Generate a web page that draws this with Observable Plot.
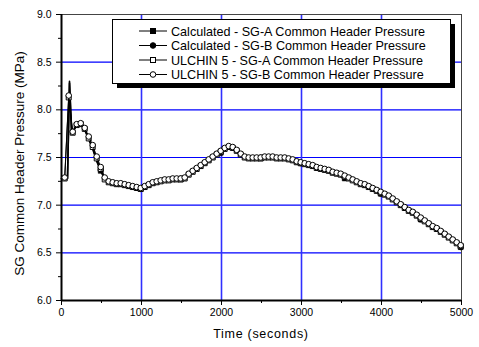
<!DOCTYPE html>
<html>
<head>
<meta charset="utf-8">
<script src="https://cdn.jsdelivr.net/npm/d3@7"></script>
<script src="https://cdn.jsdelivr.net/npm/@observablehq/plot@0.6"></script>
<style>
  html, body { margin: 0; padding: 0; background: white; }
  #wrap { position: relative; width: 479px; height: 347px; }
  #wrap svg { position: absolute; left: 0; top: 0; }
</style>
</head>
<body>
<div id="wrap"></div>
<script>
// ---------- data ----------
const ulchinTime = [40,90,140,190,240,290,340,390,440,490,
  540,590,640,690,740,790,840,890,940,990,
  1040,1090,1140,1190,1240,1290,1340,1390,1440,1490,
  1540,1590,1640,1690,1740,1790,1840,1890,1940,1990,
  2040,2090,2140,2190,2240,2290,2340,2390,2440,2490,
  2540,2590,2640,2690,2740,2790,2840,2890,2940,2990,
  3040,3090,3140,3190,3240,3290,3340,3390,3440,3490,
  3540,3590,3640,3690,3740,3790,3840,3890,3940,3990,
  4040,4090,4140,4190,4240,4290,4340,4390,4440,4490,
  4540,4590,4640,4690,4740,4790,4840,4890,4940,4990];
const ulchinA = [7.28,8.13,7.76,7.84,7.85,7.80,7.70,7.61,7.49,7.38,
  7.27,7.24,7.23,7.22,7.22,7.21,7.20,7.19,7.18,7.17,
  7.19,7.21,7.23,7.24,7.25,7.26,7.26,7.27,7.27,7.27,
  7.28,7.32,7.35,7.38,7.41,7.44,7.47,7.50,7.53,7.56,
  7.59,7.61,7.60,7.57,7.53,7.50,7.49,7.49,7.49,7.49,
  7.50,7.50,7.50,7.49,7.49,7.49,7.48,7.47,7.45,7.44,
  7.43,7.42,7.41,7.39,7.38,7.37,7.36,7.34,7.33,7.32,
  7.30,7.28,7.26,7.24,7.22,7.21,7.19,7.17,7.15,7.13,
  7.11,7.09,7.06,7.03,7.00,6.97,6.94,6.92,6.89,6.86,
  6.83,6.80,6.77,6.75,6.72,6.69,6.66,6.63,6.60,6.57];
const ulchinB = [7.29,8.15,7.77,7.85,7.86,7.81,7.72,7.63,7.51,7.40,
  7.29,7.25,7.24,7.23,7.23,7.22,7.21,7.20,7.19,7.18,
  7.20,7.22,7.24,7.25,7.26,7.27,7.27,7.28,7.28,7.28,
  7.29,7.33,7.36,7.39,7.42,7.45,7.48,7.51,7.54,7.57,
  7.60,7.62,7.61,7.58,7.54,7.51,7.50,7.50,7.50,7.50,
  7.51,7.51,7.51,7.50,7.50,7.50,7.49,7.48,7.46,7.45,
  7.44,7.43,7.42,7.40,7.39,7.38,7.37,7.35,7.34,7.33,
  7.31,7.29,7.27,7.25,7.23,7.22,7.20,7.18,7.16,7.14,
  7.12,7.10,7.07,7.04,7.01,6.98,6.95,6.93,6.90,6.87,
  6.84,6.81,6.78,6.76,6.73,6.70,6.67,6.64,6.61,6.58];

const calcTime = [0,50,75,100,125,
  140,190,240,290,340,390,440,490,
  540,590,640,690,740,790,840,890,940,990,
  1040,1090,1140,1190,1240,1290,1340,1390,1440,1490,
  1540,1590,1640,1690,1740,1790,1840,1890,1940,1990,
  2040,2090,2140,2190,2240,2290,2340,2390,2440,2490,
  2540,2590,2640,2690,2740,2790,2840,2890,2940,2990,
  3040,3090,3140,3190,3240,3290,3340,3390,3440,3490,
  3540,3590,3640,3690,3740,3790,3840,3890,3940,3990,
  4040,4090,4140,4190,4240,4290,4340,4390,4440,4490,
  4540,4590,4640,4690,4740,4790,4840,4890,4940,4990];
const calcA = [7.28,7.28,7.28,8.30,7.78,
  7.76,7.84,7.85,7.79,7.69,7.59,7.46,7.36,
  7.27,7.24,7.23,7.22,7.22,7.21,7.20,7.19,7.18,7.17,
  7.19,7.21,7.23,7.24,7.25,7.26,7.26,7.27,7.27,7.27,
  7.28,7.31,7.34,7.37,7.40,7.43,7.46,7.49,7.52,7.55,
  7.58,7.60,7.60,7.57,7.53,7.50,7.49,7.49,7.49,7.49,
  7.50,7.50,7.50,7.49,7.49,7.49,7.48,7.47,7.45,7.44,
  7.43,7.42,7.41,7.39,7.38,7.37,7.35,7.33,7.32,7.30,
  7.28,7.27,7.25,7.23,7.22,7.20,7.18,7.16,7.14,7.12,
  7.10,7.08,7.05,7.02,6.99,6.96,6.93,6.91,6.88,6.85,
  6.82,6.79,6.76,6.74,6.71,6.68,6.65,6.62,6.59,6.56];
const calcB = [7.28,7.28,7.28,8.28,7.79,
  7.77,7.85,7.85,7.80,7.70,7.60,7.47,7.37,
  7.28,7.24,7.23,7.23,7.22,7.21,7.20,7.19,7.18,7.17,
  7.19,7.21,7.23,7.24,7.25,7.26,7.27,7.27,7.27,7.28,
  7.29,7.31,7.34,7.37,7.40,7.43,7.46,7.49,7.52,7.55,
  7.58,7.61,7.60,7.57,7.53,7.50,7.49,7.49,7.49,7.50,
  7.50,7.50,7.50,7.50,7.49,7.49,7.48,7.47,7.45,7.44,
  7.43,7.42,7.41,7.39,7.38,7.37,7.36,7.34,7.32,7.31,
  7.29,7.27,7.25,7.24,7.22,7.20,7.18,7.16,7.14,7.12,
  7.10,7.08,7.05,7.02,6.99,6.96,6.94,6.91,6.88,6.85,
  6.82,6.79,6.77,6.74,6.71,6.68,6.65,6.62,6.59,6.56];
// times at which the calculated curves carry a marker
const calcMarkerTimes = [490,990,1490,1990,2490,2990,3540,3990,4490,4990];

const xTicks = [0,1000,2000,3000,4000,5000];
const xMinorTicks = [500,1500,2500,3500,4500];
const xGrid = [1000,2000,3000,4000];
const yTicks = [6.0,6.5,7.0,7.5,8.0,8.5,9.0];
const yMinorTicks = [6.25,6.75,7.25,7.75,8.25,8.75];
const yGrid = [6.5,7.0,7.5,8.0,8.5];
const legendLabels = [
  "Calculated - SG-A Common Header Pressure",
  "Calculated - SG-B Common Header Pressure",
  "ULCHIN 5 - SG-A Common Header Pressure",
  "ULCHIN 5 - SG-B Common Header Pressure"
];
const xTitle = "Time (seconds)";
const yTitle = "SG Common Header Pressure (MPa)";

// ---------- build tables ----------
const calcAData = calcTime.map((t, i) => ({t, p: calcA[i]}));
const calcBData = calcTime.map((t, i) => ({t, p: calcB[i]}));
const ulAData = ulchinTime.map((t, i) => ({t, p: ulchinA[i]}));
const ulBData = ulchinTime.map((t, i) => ({t, p: ulchinB[i]}));
const calcAMarks = calcAData.filter(d => calcMarkerTimes.includes(d.t));
const calcBMarks = calcBData.filter(d => calcMarkerTimes.includes(d.t));

const R = 2.8;
const FONT = "'Liberation Sans', Arial, sans-serif";
const GRID = "#0000ff";

const chart = Plot.plot({
  width: 479,
  height: 347,
  marginLeft: 61,
  marginRight: 18,
  marginTop: 14,
  marginBottom: 47,
  x: {domain: [0, 5000]},
  y: {domain: [6, 9]},
  style: {fontFamily: FONT, fontSize: "10.5px", background: "white", color: "black", overflow: "visible"},
  marks: [
    Plot.gridY(yGrid, {stroke: GRID, strokeOpacity: 1, strokeWidth: 1.2}),
    Plot.gridX(xGrid, {stroke: "#3030ff", strokeOpacity: 1, strokeWidth: 1.6}),
    Plot.frame({stroke: "#444", strokeWidth: 1}),
    Plot.axisX(xTicks, {tickSize: 5, tickPadding: 3, label: null, tickFormat: d => String(d), fontSize: 10.5}),
    Plot.axisX(xMinorTicks, {tickSize: 3, label: null, tickFormat: () => ""}),
    Plot.axisY(yTicks, {tickSize: 5, tickPadding: 5, label: null, tickFormat: d3.format(".1f"), fontSize: 10.5}),
    Plot.axisY(yMinorTicks, {tickSize: 3, label: null, tickFormat: () => ""}),
    Plot.ruleX([0], {stroke: "black", strokeWidth: 2}),
    Plot.ruleY([6], {stroke: "black", strokeWidth: 2}),
    // calculated series
    Plot.line(calcAData, {x: "t", y: "p", stroke: "black", strokeWidth: 1.6}),
    Plot.line(calcBData, {x: "t", y: "p", stroke: "black", strokeWidth: 1.6}),
    Plot.dot(calcAMarks, {x: "t", y: "p", symbol: "square", r: R, fill: "black", stroke: "black", strokeWidth: 0.5}),
    Plot.dot(calcBMarks, {x: "t", y: "p", symbol: "circle", r: R, fill: "black", stroke: "black", strokeWidth: 0.5}),
    // ULCHIN 5 series
    Plot.line(ulAData, {x: "t", y: "p", stroke: "black", strokeWidth: 1}),
    Plot.dot(ulAData, {x: "t", y: "p", symbol: "square", r: R, fill: "white", stroke: "black", strokeWidth: 1}),
    Plot.line(ulBData, {x: "t", y: "p", stroke: "black", strokeWidth: 1}),
    Plot.dot(ulBData, {x: "t", y: "p", symbol: "circle", r: R, fill: "white", stroke: "black", strokeWidth: 1})
  ]
});

const wrap = document.getElementById("wrap");
wrap.appendChild(chart);

// ---------- titles & legend overlay ----------
const ov = d3.select(wrap).append("svg")
  .attr("width", 479).attr("height", 347)
  .style("font-family", FONT);

ov.append("text")
  .attr("x", 261).attr("y", 338)
  .attr("text-anchor", "middle")
  .attr("font-size", 12.5)
  .attr("letter-spacing", 0.7)
  .text(xTitle);

ov.append("text")
  .attr("transform", "translate(24,163.5) rotate(-90)")
  .attr("text-anchor", "middle")
  .attr("font-size", 13.5)
  .text(yTitle);

const lg = ov.append("g");
lg.append("rect").attr("x", 117).attr("y", 24).attr("width", 338).attr("height", 64).attr("fill", "black");
lg.append("rect").attr("x", 112.5).attr("y", 19.5).attr("width", 338).attr("height", 64)
  .attr("fill", "white").attr("stroke", "black").attr("stroke-width", 1);

const rowsY = [31, 45.5, 60, 74.5];
const sym = [
  {shape: "square", fill: "black"},
  {shape: "circle", fill: "black"},
  {shape: "square", fill: "white"},
  {shape: "circle", fill: "white"}
];
legendLabels.forEach((lab, i) => {
  const y = rowsY[i];
  lg.append("line").attr("x1", 139).attr("x2", 167).attr("y1", y).attr("y2", y)
    .attr("stroke", "black").attr("stroke-width", 1);
  if (sym[i].shape === "square") {
    lg.append("rect").attr("x", 153 - 2.5).attr("y", y - 2.5).attr("width", 5).attr("height", 5)
      .attr("fill", sym[i].fill).attr("stroke", "black").attr("stroke-width", 1);
  } else {
    lg.append("circle").attr("cx", 153).attr("cy", y).attr("r", 2.8)
      .attr("fill", sym[i].fill).attr("stroke", "black").attr("stroke-width", 1);
  }
  lg.append("text").attr("x", 171).attr("y", y + 4.6)
    .attr("font-size", 12.6).text(lab);
});
</script>
</body>
</html>
